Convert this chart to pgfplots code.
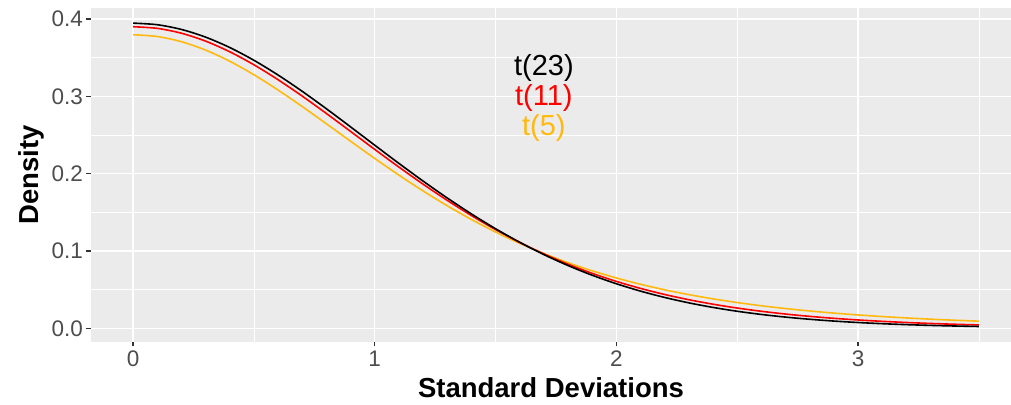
\documentclass[border=0pt]{standalone}
\usepackage{pgfplots}
\pgfplotsset{compat=1.18}
\usepackage{fontspec}
\setmainfont{Liberation Sans}
\definecolor{panelbg}{HTML}{EBEBEB}
\definecolor{tickc}{HTML}{333333}
\definecolor{ticklab}{HTML}{4D4D4D}
\definecolor{tyellow}{RGB}{255,185,15}
\begin{document}
\begin{tikzpicture}
\useasboundingbox (0,0) rectangle (1011pt,404pt);
\begin{axis}[
  at={(91pt,62pt)}, anchor=south west,
  scale only axis, width=920pt, height=334pt,
  xmin=-0.174, xmax=3.633, ymin=-0.0177, ymax=0.4142,
  axis background/.style={fill=panelbg},
  axis line style={draw=none},
  xtick={0,1,2,3}, ytick={0,0.1,0.2,0.3,0.4},
  minor xtick={0.5,1.5,2.5,3.5}, minor ytick={0.05,0.15,0.25,0.35},
  grid=both,
  major grid style={white, line width=1.4pt},
  minor grid style={white, line width=0.7pt},
  xtick pos=bottom, ytick pos=left,
  tick align=outside, major tick length=4.5pt, minor tick length=0pt,
  every tick/.style={draw=tickc, line width=1.2pt},
  major tick style={draw=tickc, line width=1.2pt},
  /pgf/number format/assume math mode=true,
  yticklabel style={/pgf/number format/fixed, /pgf/number format/fixed zerofill, /pgf/number format/precision=1},
  ticklabel style={font=\fontsize{22.5}{26}\selectfont, text=ticklab},
  xticklabel style={yshift=-1pt},
  xlabel={Standard Deviations}, ylabel={Density},
  label style={font=\fontsize{27.5}{32}\selectfont\bfseries},
  xlabel style={yshift=-4pt},
  ylabel style={yshift=1pt},
  clip=true,
]
\addplot[color=tyellow, line width=1.6pt, smooth] coordinates {
(0.0,0.379607)(0.1,0.377339)(0.2,0.370642)(0.3,0.359825)(0.4,0.345378)(0.5,0.327919)
(0.6,0.308146)(0.7,0.286770)(0.8,0.264490)(0.9,0.241947)(1.0,0.219680)(1.1,0.198142)
(1.2,0.177664)(1.3,0.158486)(1.4,0.140749)(1.5,0.124526)(1.6,0.109820)(1.7,0.096606)
(1.8,0.084805)(1.9,0.074337)(2.0,0.065091)(2.1,0.056948)(2.2,0.049800)(2.3,0.043549)
(2.4,0.038086)(2.5,0.033326)(2.6,0.029176)(2.7,0.025559)(2.8,0.022414)(2.9,0.019674)
(3.0,0.017293)(3.1,0.015216)(3.2,0.013405)(3.3,0.011827)(3.4,0.010449)(3.5,0.009243)
};
\addplot[color=red, line width=1.6pt, smooth] coordinates {
(0.0,0.389990)(0.1,0.387870)(0.2,0.381588)(0.3,0.371381)(0.4,0.357620)(0.5,0.340795)
(0.6,0.321471)(0.7,0.300280)(0.8,0.277776)(0.9,0.254631)(1.0,0.231379)(1.1,0.208507)
(1.2,0.186423)(1.3,0.165452)(1.4,0.145817)(1.5,0.127688)(1.6,0.111135)(1.7,0.096204)
(1.8,0.082866)(1.9,0.071037)(2.0,0.060651)(2.1,0.051592)(2.2,0.043737)(2.3,0.036971)
(2.4,0.031171)(2.5,0.026220)(2.6,0.022015)(2.7,0.018452)(2.8,0.015448)(2.9,0.012917)
(3.0,0.010793)(3.1,0.009013)(3.2,0.007525)(3.3,0.006280)(3.4,0.005241)(3.5,0.004376)
};
\addplot[color=black, line width=1.6pt, smooth] coordinates {
(0.0,0.394630)(0.1,0.392577)(0.2,0.386487)(0.3,0.376562)(0.4,0.363127)(0.5,0.346615)
(0.6,0.327528)(0.7,0.306454)(0.8,0.283896)(0.9,0.260505)(1.0,0.236803)(1.1,0.213305)
(1.2,0.190424)(1.3,0.168538)(1.4,0.147918)(1.5,0.128771)(1.6,0.111227)(1.7,0.095356)
(1.8,0.081170)(1.9,0.068619)(2.0,0.057618)(2.1,0.048081)(2.2,0.039890)(2.3,0.032908)
(2.4,0.027003)(2.5,0.022048)(2.6,0.017917)(2.7,0.014497)(2.8,0.011681)(2.9,0.009376)
(3.0,0.007501)(3.1,0.005981)(3.2,0.004753)(3.3,0.003768)(3.4,0.002979)(3.5,0.002350)
};
\node[font=\fontsize{29}{34}\selectfont, text=black, inner sep=0pt] at (axis cs:1.7,0.336) {t(23)};
\node[font=\fontsize{29}{34}\selectfont, text=red, inner sep=0pt] at (axis cs:1.7,0.298) {t(11)};
\node[font=\fontsize{29}{34}\selectfont, text=tyellow, inner sep=0pt] at (axis cs:1.7,0.259) {t(5)};
\end{axis}
\end{tikzpicture}
\end{document}
